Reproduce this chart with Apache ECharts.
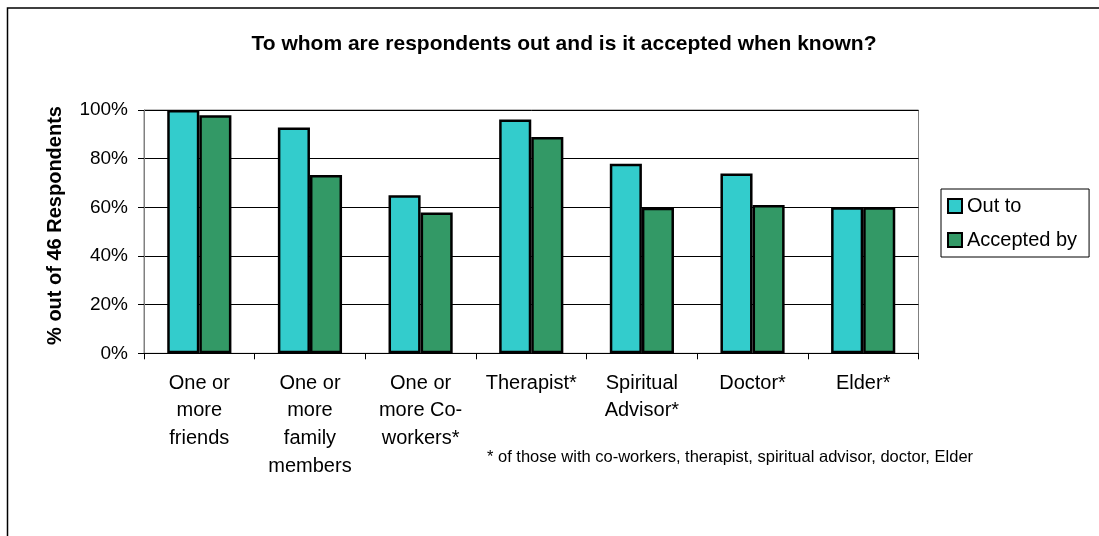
<!DOCTYPE html>
<html>
<head>
<meta charset="utf-8">
<script src="https://cdn.jsdelivr.net/npm/echarts@6/dist/echarts.min.js"></script>
<style>
  html, body { margin: 0; padding: 0; background: #fff; }
  #chart { width: 1099px; height: 536px; }
</style>
</head>
<body>
<div id="chart"></div>
<script>
// Who respondents are out to, and whether it is accepted (percent of respondents)
const categories = [
  'One or\nmore\nfriends',
  'One or\nmore\nfamily\nmembers',
  'One or\nmore Co-\nworkers*',
  'Therapist*',
  'Spiritual\nAdvisor*',
  'Doctor*',
  'Elder*'
];
const outTo      = [100, 92.8, 65.0, 96.1, 77.9, 73.9, 60.0];
const acceptedBy = [97.8, 73.3, 57.9, 88.9, 59.8, 61.0, 60.0];
const yTicks = [0, 20, 40, 60, 80, 100];

const seriesNames = ['Out to', 'Accepted by'];
const titleText = 'To whom are respondents out and is it accepted when known?';
const yAxisTitle = '% out of 46 Respondents';
const footnote = '* of those with co-workers, therapist, spiritual advisor, doctor, Elder';

const FONT = '"Liberation Sans", Arial, Helvetica, sans-serif';

const chart = echarts.init(document.getElementById('chart'), null, { renderer: 'canvas' });

chart.setOption({
  backgroundColor: '#ffffff',
  animation: false,
  textStyle: { fontFamily: FONT, color: '#000' },
  title: {
    text: titleText,
    left: 559,
    textAlign: 'center',
    top: 29,
    textStyle: { fontFamily: FONT, fontSize: 21, fontWeight: 'bold', color: '#000' }
  },
  legend: {
    orient: 'vertical',
    left: 941,
    top: 189,
    width: 148,
    padding: [5, 12, 5, 6],
    itemWidth: 14,
    itemHeight: 14,
    itemGap: 10,
    icon: 'rect',
    borderColor: '#000',
    borderWidth: 1,
    backgroundColor: '#fff',
    textStyle: { fontFamily: FONT, fontSize: 20, color: '#000', lineHeight: 24 },
    data: seriesNames
  },
  grid: {
    left: 144,
    right: 180.5,
    top: 110,
    bottom: 182.7,
    show: true,
    borderColor: '#808080',
    borderWidth: 1
  },
  xAxis: {
    type: 'category',
    data: categories,
    boundaryGap: true,
    axisLine: { show: true, lineStyle: { color: '#000', width: 1 } },
    axisTick: { show: true, length: 6, lineStyle: { color: '#000' } },
    axisLabel: {
      interval: 0,
      margin: 16,
      fontFamily: FONT,
      fontSize: 20,
      lineHeight: 27.7,
      color: '#000',
      align: 'center'
    }
  },
  yAxis: {
    type: 'value',
    min: yTicks[0],
    max: yTicks[yTicks.length - 1],
    interval: yTicks[1] - yTicks[0],
    axisLine: { show: true, lineStyle: { color: '#808080', width: 1 } },
    axisTick: { show: true, inside: false, length: 6, lineStyle: { color: '#000' } },
    axisLabel: {
      margin: 16,
      fontFamily: FONT,
      fontSize: 19,
      color: '#000',
      formatter: '{value}%'
    },
    splitLine: { show: true, lineStyle: { color: '#000', width: 1 } }
  },
  series: [
    {
      name: seriesNames[0],
      type: 'bar',
      data: outTo,
      barGap: '0%',
      barCategoryGap: '42%',
      itemStyle: { color: '#33CCCC', borderColor: '#000', borderWidth: 2.5 }
    },
    {
      name: seriesNames[1],
      type: 'bar',
      data: acceptedBy,
      barGap: '0%',
      barCategoryGap: '42%',
      itemStyle: { color: '#339966', borderColor: '#000', borderWidth: 2.5 }
    }
  ],
  graphic: [
    {
      type: 'rect',
      silent: true,
      z: -1,
      shape: { x: 7.5, y: 8, width: 1200, height: 700 },
      style: { fill: 'none', stroke: '#000', lineWidth: 1.5 }
    },
    {
      // rotated value-axis title
      type: 'text',
      x: 55,
      y: 225.5,
      rotation: Math.PI / 2,
      style: {
        text: yAxisTitle,
        font: 'bold 20px ' + FONT,
        fill: '#000',
        align: 'center',
        verticalAlign: 'middle'
      }
    },
    {
      type: 'text',
      left: 487,
      top: 449,
      style: { text: footnote, font: '16.5px ' + FONT, fill: '#000' }
    }
  ]
});
</script>
</body>
</html>
